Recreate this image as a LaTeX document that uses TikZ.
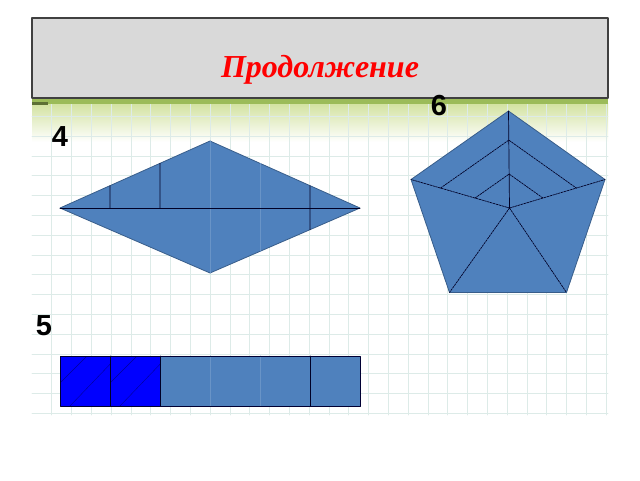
\documentclass[tikz,border=0pt]{standalone}
\usepackage{fontspec}
\setmainfont{Liberation Serif}
\newfontfamily\arialfont{Liberation Sans}
\usetikzlibrary{calc}
\definecolor{xanh}{HTML}{4F81BD}
\definecolor{vien}{HTML}{385D8A}
\definecolor{luoi}{HTML}{DDEBE8}
\definecolor{laxanh}{HTML}{9BBB59}
\definecolor{lanhat}{HTML}{D2E2A0}

\begin{document}
\begin{tikzpicture}[x=1pt,y=-1pt,line join=round,line cap=round,
    net/.style={black!85!blue,line width=0.7pt},
    mo/.style={xanh!85!white,line width=0.6pt},
    netdut/.style={net,dash pattern=on 2pt off 1pt},
    so/.style={font=\arialfont\bfseries\fontsize{29}{30}\selectfont,inner sep=0pt}]
\useasboundingbox (0,0) rectangle (640,480);
\fill[white] (0,0) rectangle (640,480);
%Nền lưới
\shade[top color=lanhat,bottom color=white] (32,103) rectangle (608,142);
\foreach \i in {0,...,28}
    \draw[luoi,line width=0.7pt] ({51.7+19.8*\i},98)--({51.7+19.8*\i},415);
\foreach \j in {0,...,15}
    \draw[luoi,line width=0.7pt] (32,{413.3-19.8*\j})--(608,{413.3-19.8*\j});
\fill[laxanh] (32,98) rectangle (608,103.5);
\fill[laxanh!60!black] (32,101.5) rectangle (48,104.5);
%Tiêu đề
\draw[fill=black!15,draw=black!75,line width=1.5pt] (32,18) rectangle (608,98);
\node[anchor=base,text=red,font=\bfseries\itshape\fontsize{32}{36}\selectfont,inner sep=0pt] (tieude) at (320,77.5) {Продолжение};
%Hình 4
\path (60,208)coordinate(A)(210,141)coordinate(B)(360,208)coordinate(C)(210,273)coordinate(D);
\filldraw[fill=xanh,draw=vien,line width=0.8pt] (A)--(B)--(C)--(D)--cycle;
\draw[mo] (B)--(D) ($(B)!1/3!(C)$)--($(D)!1/3!(C)$);
\draw[net] (A)--(C);
\draw[net] ($(A)!1/3!(B)$)--($(A)!1/6!(C)$) ($(A)!2/3!(B)$)--($(A)!1/3!(C)$)
    ($(B)!2/3!(C)$)--($(D)!2/3!(C)$);
\node[so] (so4) at (60,137) {4};
%Hình 6
\path (509.5,208)coordinate(O)(508.5,111)coordinate(P1)(605,179.5)coordinate(P2)
    (566.5,292.5)coordinate(P3)(449.5,292.5)coordinate(P4)(411,179.5)coordinate(P5);
\filldraw[fill=xanh,draw=vien,line width=0.8pt] (P1)--(P2)--(P3)--(P4)--(P5)--cycle;
\draw[net] (P1)--(O);
\foreach \d in {P2,P3,P4,P5}
    \draw[netdut] (O)--(\d);
\foreach \k in {0.7,0.35}
    \draw[netdut] ($(O)!\k!(P5)$)--($(O)!\k!(P1)$)--($(O)!\k!(P2)$);
\node[so] (so6) at (439,106) {6};
%Hình 5
\def\a{50}% cạnh ô
\fill[blue] (60,356) rectangle (160,406);
\fill[xanh] (160,356) rectangle (360,406);
\foreach \x in {60,110}{
    \begin{scope}
    \clip (\x,356) rectangle ++(\a,50);
    \draw[blue!60!black,line width=0.4pt] (\x,383)--++(27,-27) (\x+10,406)--++(45,-47);
    \end{scope}}
\draw[mo] (210,356)--(210,406) (260,356)--(260,406);
\draw[net] (110,356)--(110,406) (160,356)--(160,406) (310,356)--(310,406);
\draw[black!80!blue,line width=0.9pt] (60,356) rectangle (360,406);
\node[so] (so5) at (44,325.5) {5};
\end{tikzpicture}
\end{document}
